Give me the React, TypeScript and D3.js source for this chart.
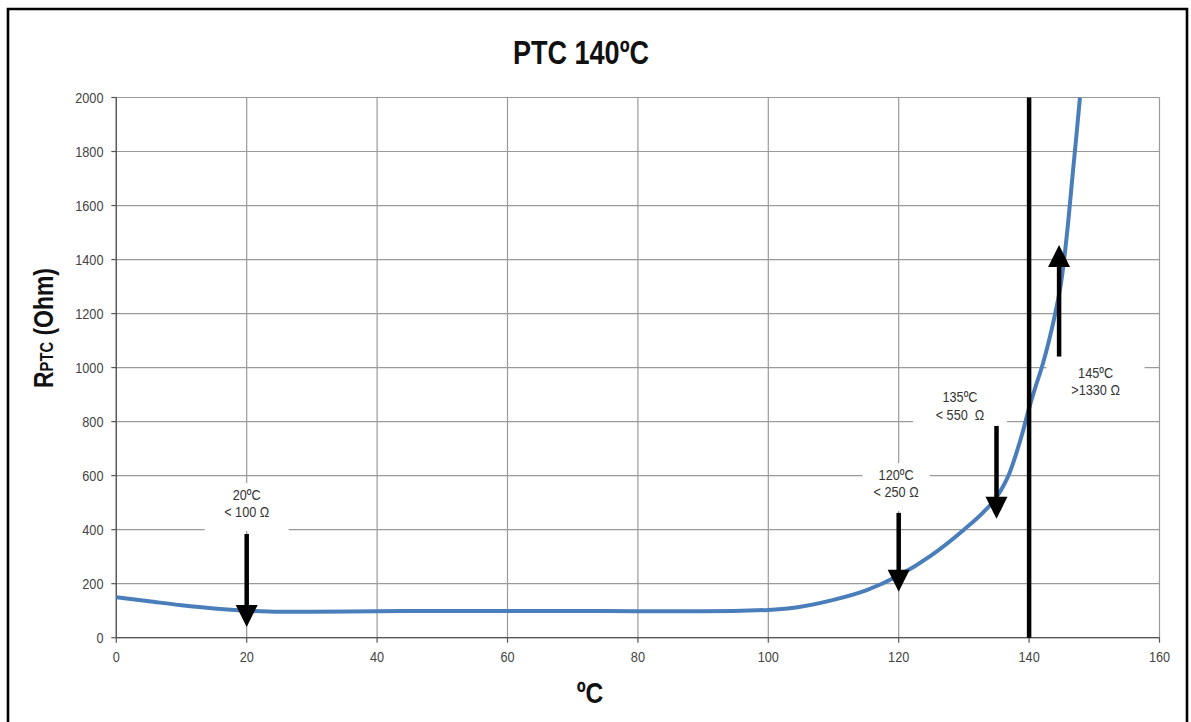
import React from "react";
import * as d3 from "d3";

const temps = [0, 5, 10, 15, 20, 25, 30, 40, 50, 60, 70, 80, 90, 100, 103, 110, 115, 120, 125, 130, 133, 135, 136, 137, 138, 139, 140, 141, 142, 143, 144, 145, 146, 146.7, 147.3, 147.8];
const resistance = [150, 135, 120, 108, 100, 96, 96, 98, 99, 99, 99, 98, 98, 103, 108, 140, 175, 230, 305, 400, 465, 520, 560, 610, 680, 760, 850, 930, 1005, 1095, 1200, 1330, 1540, 1720, 1870, 2000];

const xTicks = [0, 20, 40, 60, 80, 100, 120, 140, 160];
const yTicks = [0, 200, 400, 600, 800, 1000, 1200, 1400, 1600, 1800, 2000];

const thresholdTemp = 140;

const arrowX = [20, 120, 135, 144.6];
const arrowFrom = [384, 462, 784, 1041];
const arrowTo = [40, 170, 440, 1454];

const labelX = [20, 119.6, 129.4, 150.2];
const labelY = [510, 584, 871, 962];
const labelLine1 = ["20ºC", "120ºC", "135ºC", "145ºC"];
const labelLine2 = ["< 100 Ω", "< 250 Ω", "< 550  Ω", ">1330 Ω"];
const labelBoxW = [84, 67, 94, 98];

const FONT = "'Liberation Sans', Arial, sans-serif";
const SX = 0.82;

function NText(props: { x: number; y: number; anchor?: string; size: number; bold?: boolean; fill?: string; children: React.ReactNode }) {
  const { x, y, anchor = "start", size, bold, fill = "#444", children } = props;
  return (
    <text
      transform={`translate(${x},${y}) scale(${SX},1)`}
      textAnchor={anchor}
      fontFamily={FONT}
      fontSize={size}
      fontWeight={bold ? "bold" : "normal"}
      fill={fill}
      xmlSpace="preserve"
    >
      {children}
    </text>
  );
}

export default function App() {
  const W = 1191, H = 722;
  const x = d3.scaleLinear().domain([0, 160]).range([116.3, 1159.5]);
  const y = d3.scaleLinear().domain([0, 2000]).range([637.7, 97.5]);
  const line = d3.line<number>()
    .x((_, i) => x(temps[i]))
    .y((d) => y(d))
    .curve(d3.curveMonotoneX);

  return (
    <svg width={W} height={H} style={{ position: "absolute", left: 0, top: 0, background: "#fff" }}>
      <rect x={0} y={0} width={W} height={H} fill="#fff" />
      <path d={`M8,740 V9 H1187 V740`} fill="none" stroke="#000" strokeWidth={2.6} />

      <NText x={581} y={63.5} anchor="middle" size={33} bold fill="#111">PTC 140ºC</NText>

      {yTicks.map((t) => (
        <line key={"gy" + t} x1={x(0)} x2={x(160)} y1={y(t)} y2={y(t)} stroke="#9a9a9a" strokeWidth={1.2} />
      ))}
      {xTicks.map((t) => (
        <line key={"gx" + t} x1={x(t)} x2={x(t)} y1={y(0)} y2={y(2000)} stroke="#9a9a9a" strokeWidth={1.2} />
      ))}

      <line x1={x(0)} x2={x(0)} y1={y(0)} y2={y(2000)} stroke="#555" strokeWidth={1.3} />
      <line x1={x(0)} x2={x(160)} y1={y(0)} y2={y(0)} stroke="#555" strokeWidth={1.3} />
      {yTicks.map((t) => (
        <line key={"ty" + t} x1={x(0) - 5} x2={x(0)} y1={y(t)} y2={y(t)} stroke="#555" strokeWidth={1.2} />
      ))}
      {xTicks.map((t) => (
        <line key={"tx" + t} x1={x(t)} x2={x(t)} y1={y(0)} y2={y(0) + 5} stroke="#555" strokeWidth={1.2} />
      ))}
      {yTicks.map((t) => (
        <NText key={"ly" + t} x={103.5} y={y(t) + 5.5} anchor="end" size={15.5}>{t}</NText>
      ))}
      {xTicks.map((t) => (
        <NText key={"lx" + t} x={x(t)} y={662} anchor="middle" size={15.5}>{t}</NText>
      ))}

      {labelX.map((lx, i) => (
        <rect key={"m" + i} x={x(lx) - labelBoxW[i] / 2} y={y(labelY[i]) - 17} width={labelBoxW[i]} height={48} fill="#fff" />
      ))}

      <path d={line(resistance) || ""} fill="none" stroke="#4A7EBB" strokeWidth={4} strokeLinejoin="round" />

      <line x1={x(thresholdTemp)} x2={x(thresholdTemp)} y1={y(2000)} y2={y(0)} stroke="#000" strokeWidth={4.5} />

      {arrowX.map((ax, i) => {
        const px = x(ax);
        const y0 = y(arrowFrom[i]);
        const y1 = y(arrowTo[i]);
        const dir = y1 > y0 ? 1 : -1;
        const headLen = 22;
        const headHalf = 11;
        const base = y1 - dir * headLen;
        return (
          <g key={"a" + i}>
            <line x1={px} x2={px} y1={y0} y2={base + dir * 2} stroke="#000" strokeWidth={4.5} />
            <path d={`M${px - headHalf},${base} L${px + headHalf},${base} L${px},${y1} Z`} fill="#000" />
          </g>
        );
      })}

      {labelX.map((lx, i) => (
        <g key={"t" + i}>
          <NText x={x(lx)} y={y(labelY[i])} anchor="middle" size={15.5} fill="#333">{labelLine1[i]}</NText>
          <NText x={x(lx)} y={y(labelY[i]) + 17.5} anchor="middle" size={15.5} fill="#333">{labelLine2[i]}</NText>
        </g>
      ))}

      <NText x={590} y={703} anchor="middle" size={30} bold fill="#111">ºC</NText>
      <text transform="translate(53,388) rotate(-90) scale(0.82,1)" fontFamily={FONT} fontWeight="bold" fontSize={28} fill="#111">
        R<tspan fontSize={18}>PTC</tspan> (Ohm)
      </text>
    </svg>
  );
}
